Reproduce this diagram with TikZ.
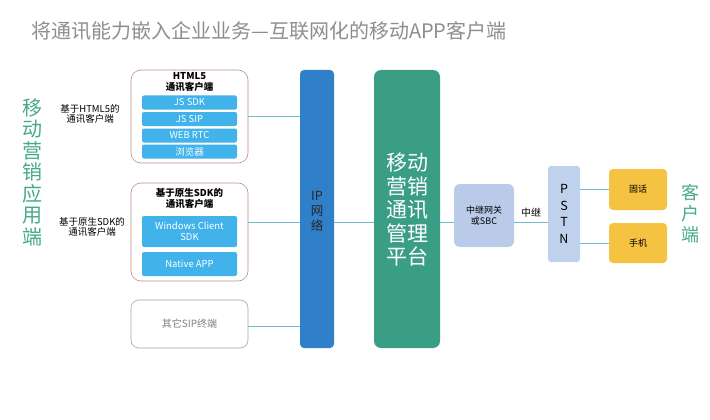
\documentclass[tikz,border=0pt]{standalone}
\usepackage{fontspec}
\setmainfont{Noto Sans CJK SC}
\definecolor{titlegray}{HTML}{8E8E8E}
\definecolor{lgreen}{HTML}{46A98A}
\definecolor{barblue}{HTML}{41B2EA}
\definecolor{ipblue}{HTML}{2F80C8}
\definecolor{platgreen}{HTML}{3A9E85}
\definecolor{gwblue}{HTML}{BACBE9}
\definecolor{pstnblue}{HTML}{C0D1EE}
\definecolor{yel}{HTML}{F5C242}
\definecolor{conn}{HTML}{72B8CC}
\definecolor{boxred}{HTML}{B89090}
\begin{document}
\begin{tikzpicture}[x=1pt,y=-1pt,
  grp/.style={draw=boxred,line width=0.6pt,rounded corners=10pt,fill=white},
  bar/.style={fill=barblue,rounded corners=2pt,text=white,font=\fontsize{9.5}{11}\selectfont,minimum width=95pt,inner sep=0pt,align=center},
  smalllab/.style={font=\fontsize{9.5}{10.5}\selectfont,align=center,inner sep=0pt},
  boxtitle/.style={font=\fontsize{9.5}{10.5}\selectfont\bfseries,align=center,inner sep=0pt},
  conline/.style={draw=conn,line width=0.8pt},
  vert/.style={align=center,inner sep=0pt}]
\useasboundingbox (0,0) rectangle (710,420);
\fill[white] (0,0) rectangle (710,420);

% title
\node[anchor=west,text=titlegray,inner sep=0pt,font=\fontsize{20}{22}\selectfont] (title) at (31,31) {将通讯能力嵌入企业业务—互联网化的移动APP客户端};

% left vertical label
\node[vert,text=lgreen,font=\fontsize{20}{21.5}\selectfont] (appside) at (33,172) {移\\动\\营\\销\\应\\用\\端};

% HTML5 group
\node[grp,minimum width=117pt,minimum height=93pt] (html) at (189.5,116.5) {};
\node[boxtitle] (htmltitle) at (189.5,82) {HTML5\\通讯客户端};
\node[bar,minimum height=14pt] (jssdk) at (189.5,102.5) {JS SDK};
\node[bar,minimum height=14pt] (jssip) at (189.5,119) {JS SIP};
\node[bar,minimum height=14pt] (webrtc) at (189.5,135.5) {WEB RTC};
\node[bar,minimum height=14pt] (browser) at (189.5,151.5) {浏览器};
\node[smalllab] (htmllab) at (90,114) {基于HTML5的\\通讯客户端};

% Native group
\node[grp,minimum width=117pt,minimum height=98pt] (native) at (189.5,232) {};
\node[boxtitle] (nattitle) at (189.5,198.5) {基于原生SDK的\\通讯客户端};
\node[bar,minimum height=31pt] (winsdk) at (189.5,231.5) {Windows Client\\SDK};
\node[bar,minimum height=24pt] (natapp) at (189.5,264) {Native APP};
\node[smalllab] (natlab) at (92,227) {基于原生SDK的\\通讯客户端};

% other SIP
\node[draw=gray!70,line width=0.6pt,rounded corners=8pt,minimum width=117pt,minimum height=48pt,text=gray,font=\fontsize{10}{12}\selectfont] (other) at (189.5,324) {其它SIP终端};

% IP network
\node[fill=ipblue,rounded corners=4pt,minimum width=34pt,minimum height=278pt,inner sep=0pt] (ip) at (317,209) {};
\node[vert,text=black!85,font=\fontsize{12.5}{15}\selectfont] (iptext) at (317,211) {IP\\网\\络};

% platform
\node[fill=platgreen,rounded corners=7pt,minimum width=66pt,minimum height=278pt,inner sep=0pt] (plat) at (407,209) {};
\node[vert,text=white,font=\fontsize{21}{23.5}\selectfont] (plattext) at (407,210) {移动\\营销\\通讯\\管理\\平台};

% gateway
\node[fill=gwblue,rounded corners=6pt,minimum width=60pt,minimum height=63pt,inner sep=0pt,align=center,font=\fontsize{9}{11}\selectfont] (gw) at (484,215.5) {中继网关\\或SBC};

% PSTN
\node[fill=pstnblue,rounded corners=3pt,minimum width=32pt,minimum height=96pt,inner sep=0pt] (pstn) at (564,214) {};
\node[vert,font=\fontsize{12.5}{16.5}\selectfont] (pstntext) at (564,214) {P\\S\\T\\N};

% phones
\node[fill=yel,rounded corners=4pt,minimum width=58pt,minimum height=41pt,inner sep=0pt,font=\fontsize{9}{11}\selectfont] (fixed) at (638,189.5) {固话};
\node[fill=yel,rounded corners=4pt,minimum width=58pt,minimum height=40pt,inner sep=0pt,font=\fontsize{9}{11}\selectfont] (mobile) at (638,243) {手机};

\node[vert,text=lgreen,font=\fontsize{18}{21}\selectfont] (custside) at (690,214) {客\\户\\端};

% connectors
\coordinate (midline) at (0,222);
\draw[conline] (html.east) -- (html.east -| ip.west);
\draw[conline] ([yshift=10pt]native.east) -- ([yshift=10pt]native.east -| ip.west);
\draw[conline] ([yshift=-2pt]other.east) -- ([yshift=-2pt]other.east -| ip.west);
\draw[conline] (ip.east |- midline) -- (plat.west |- midline);
\draw[conline] (plat.east |- midline) -- (gw.west |- midline);
\draw[conline] (gw.east |- midline) -- node[above=4pt,text=black,font=\fontsize{10}{12}\selectfont,inner sep=0pt] (trunk) {中继} (pstn.west |- midline);
\draw[conline] (pstn.east |- fixed) -- (fixed.west);
\draw[conline] (pstn.east |- mobile) -- (mobile.west);
\end{tikzpicture}
\end{document}
